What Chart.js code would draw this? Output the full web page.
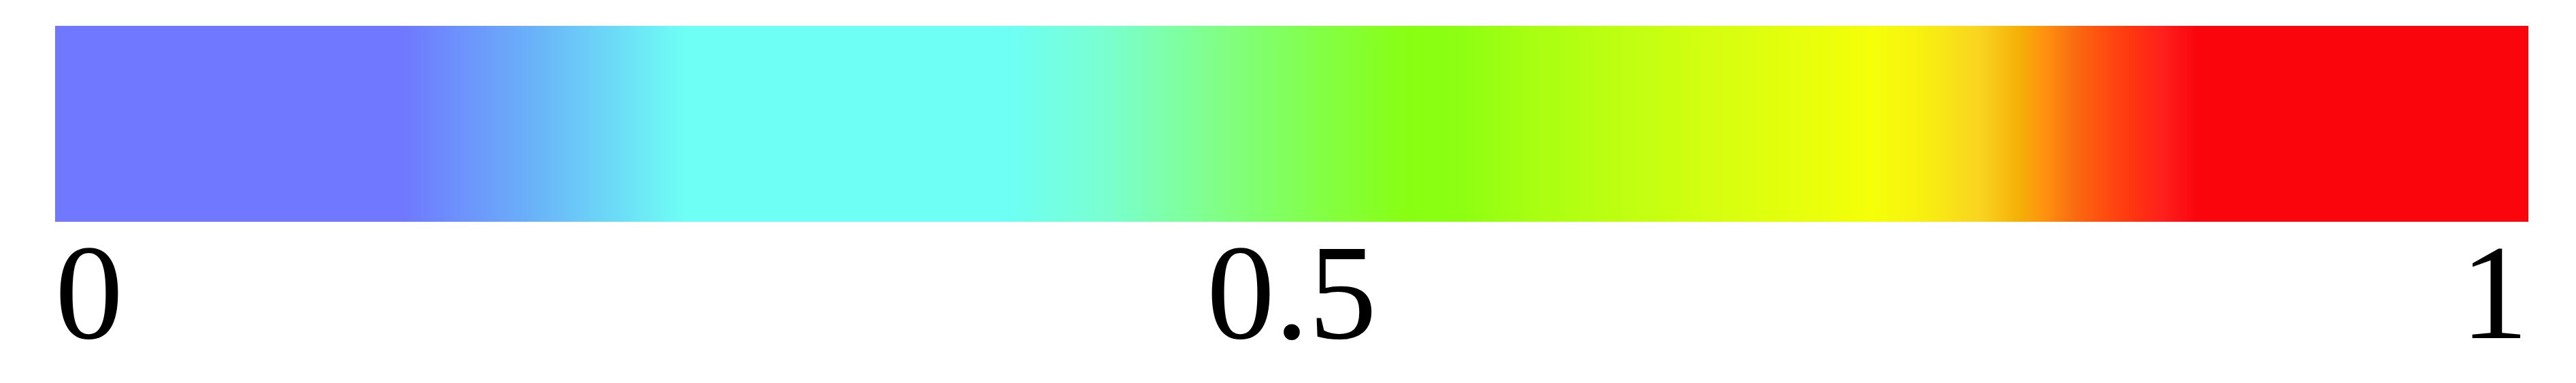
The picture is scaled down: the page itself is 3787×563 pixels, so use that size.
<!DOCTYPE html>
<html>
<head>
<meta charset="utf-8">
<script src="https://cdn.jsdelivr.net/npm/chart.js@4/dist/chart.umd.min.js"></script>
<style>
  html, body { margin: 0; padding: 0; background: #fff; }
  canvas { display: block; }
</style>
</head>
<body>
<canvas id="bar" width="3787" height="563"></canvas>
<script>
// colour scale
const categories = ['scale'];
const barRange = [0, 1];
const tickValues = [0, 0.5, 1];
const tickLabels = ['0', '0.5', '1'];
const stopPositions = [0, 0.14, 0.19, 0.255, 0.385, 0.425, 0.465, 0.505, 0.547, 0.567, 0.6, 0.665,
  0.735, 0.755, 0.778, 0.795, 0.805, 0.815, 0.827, 0.84, 0.853, 0.866, 1];
const stopColors = ['#6f78ff', '#6f78ff', '#6aaef9', '#6efff5', '#6efff5', '#79ffd0', '#80ff90', '#82ff50',
  '#88ff12', '#8cff12', '#aaff12', '#d2ff10',
  '#f5ff08', '#f8f010', '#f9d420', '#f5ae05', '#ff9010', '#f87010', '#ff5010', '#ff3510', '#ff1e1c', '#fa050c', '#fa050c'];

// gradient follows the x scale so 0 and 1 sit on the bar ends
function barGradient(ctx) {
  const chart = ctx.chart;
  if (!chart.chartArea) return stopColors[0];
  const x = chart.scales.x;
  const g = chart.ctx.createLinearGradient(x.getPixelForValue(barRange[0]), 0, x.getPixelForValue(barRange[1]), 0);
  stopPositions.forEach((p, i) => g.addColorStop(p, stopColors[i]));
  return g;
}

new Chart(document.getElementById('bar'), {
  type: 'bar',
  data: {
    labels: categories,
    datasets: [{
      data: [barRange],
      backgroundColor: barGradient,
      borderWidth: 0,
      barPercentage: 1,
      categoryPercentage: 1
    }]
  },
  options: {
    indexAxis: 'y',
    responsive: false,
    animation: false,
    devicePixelRatio: 1,
    layout: { padding: { left: 81, right: 70, top: 38, bottom: 0 } },
    plugins: { legend: { display: false }, tooltip: { enabled: false } },
    scales: {
      y: { display: false },
      x: {
        min: 0,
        max: 1,
        afterBuildTicks: axis => { axis.ticks = tickValues.map(v => ({ value: v })); },
        grid: { display: false, drawTicks: false },
        border: { display: false },
        ticks: {
          align: 'inner',
          padding: 0,
          color: '#000',
          maxRotation: 0,
          autoSkip: false,
          callback: (value, i) => tickLabels[i],
          font: { family: '"Liberation Serif", serif', size: 200, lineHeight: 1.185 }
        }
      }
    }
  }
});
</script>
</body>
</html>
